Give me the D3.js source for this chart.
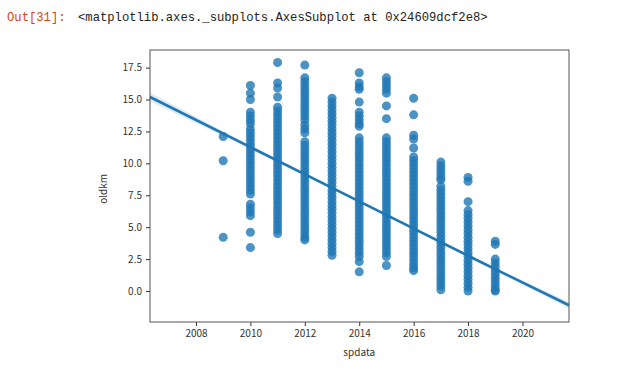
<!DOCTYPE html>
<html>
<head>
<meta charset="utf-8">
<script src="https://cdn.jsdelivr.net/npm/d3@7"></script>
<style>
  body { margin: 0; background: #fff; }
  svg { display: block; }
</style>
</head>
<body>
<svg width="625" height="373"></svg>
<script>
// values per year
const years = [2009, 2010, 2011, 2012, 2013, 2014, 2015, 2016, 2017, 2018, 2019];
const y2009 = [12.1, 10.2, 4.2];
const y2010 = [16.1, 15.5, 15.0, 14.0, 13.7, 13.4, 13.1, 12.7, 12.4, 12.1, 11.8, 11.5, 11.2, 10.9, 10.6, 10.3, 10.0, 9.7, 9.4, 9.1, 8.8, 8.5, 8.2, 7.9, 7.6, 6.8, 6.5, 6.2, 5.9, 4.6, 3.4];
const y2011 = [17.9, 16.3, 15.9, 15.2, 14.4, 14.1, 13.8, 13.5, 13.2, 12.9, 12.6, 12.3, 12.0, 11.7, 11.4, 11.1, 10.8, 10.5, 10.2, 9.9, 9.6, 9.3, 9.0, 8.7, 8.4, 8.1, 7.8, 7.5, 7.2, 6.9, 6.6, 6.3, 6.0, 5.7, 5.4, 5.1, 4.8, 4.5];
const y2012 = [17.7, 16.7, 16.4, 16.1, 15.8, 15.5, 15.2, 14.9, 14.6, 14.3, 14.0, 13.7, 13.4, 13.0, 12.7, 12.4, 11.7, 11.4, 11.1, 10.8, 10.5, 10.2, 9.9, 9.6, 9.3, 9.0, 8.7, 8.4, 8.1, 7.8, 7.5, 7.2, 6.9, 6.6, 6.3, 6.0, 5.7, 5.4, 5.1, 4.8, 4.5, 4.2, 4.0];
const y2013 = [15.1, 14.8, 14.5, 14.2, 13.9, 13.6, 13.3, 13.0, 12.7, 12.4, 12.1, 11.8, 11.5, 11.2, 10.9, 10.6, 10.3, 10.0, 9.7, 9.4, 9.1, 8.8, 8.5, 8.2, 7.9, 7.6, 7.3, 7.0, 6.7, 6.4, 6.1, 5.8, 5.5, 5.2, 4.9, 4.6, 4.3, 4.0, 3.7, 3.4, 3.1, 2.8];
const y2014 = [17.1, 16.3, 16.0, 15.8, 14.8, 14.0, 13.7, 13.4, 13.1, 12.9, 12.0, 11.7, 11.4, 11.1, 10.8, 10.5, 10.2, 9.9, 9.6, 9.3, 9.0, 8.7, 8.4, 8.1, 7.8, 7.5, 7.2, 6.9, 6.6, 6.3, 6.0, 5.7, 5.4, 5.1, 4.8, 4.5, 4.2, 3.9, 3.6, 3.3, 3.0, 2.7, 2.3, 1.5];
const y2015 = [16.7, 16.4, 16.1, 15.8, 15.5, 14.5, 13.5, 12.0, 11.7, 11.4, 11.1, 10.8, 10.5, 10.2, 9.9, 9.6, 9.3, 9.0, 8.7, 8.4, 8.1, 7.8, 7.5, 7.2, 6.9, 6.6, 6.3, 6.0, 5.7, 5.4, 5.1, 4.8, 4.5, 4.2, 3.9, 3.6, 3.3, 3.0, 2.7, 2.0];
const y2016 = [15.1, 13.8, 12.2, 11.9, 11.2, 10.5, 10.2, 9.9, 9.6, 9.3, 9.0, 8.7, 8.4, 8.1, 7.8, 7.5, 7.2, 6.9, 6.6, 6.3, 6.0, 5.7, 5.4, 5.1, 4.8, 4.5, 4.2, 3.9, 3.6, 3.3, 3.0, 2.7, 2.4, 2.1, 1.8, 1.6];
const y2017 = [10.1, 9.8, 9.5, 9.2, 8.9, 8.7, 8.2, 7.9, 7.6, 7.3, 7.0, 6.7, 6.4, 6.1, 5.8, 5.5, 5.2, 4.9, 4.6, 4.3, 4.0, 3.7, 3.4, 3.1, 2.8, 2.5, 2.2, 1.9, 1.6, 1.3, 1.0, 0.7, 0.4, 0.1];
const y2018 = [8.9, 8.6, 7.0, 6.3, 6.0, 5.7, 5.4, 5.1, 4.8, 4.5, 4.2, 3.9, 3.6, 3.3, 3.0, 2.7, 2.4, 2.1, 1.8, 1.5, 1.2, 0.9, 0.6, 0.3, 0.0];
const y2019 = [3.9, 3.65, 2.5, 2.2, 1.9, 1.6, 1.3, 1.0, 0.7, 0.4, 0.1, 0.0];
const valores = [y2009, y2010, y2011, y2012, y2013, y2014, y2015, y2016, y2017, y2018, y2019];

// fitted line and its band
const fitX = [2006.31, 2010, 2014, 2018, 2021.71];
const fitY = [15.2, 11.27, 7.02, 2.76, -1.12];
const fitLo = [14.85, 11.12, 6.95, 2.66, -1.38];
const fitHi = [15.55, 11.42, 7.09, 2.86, -0.86];

const xTicks = [2008, 2010, 2012, 2014, 2016, 2018, 2020];
const yTicks = [0.0, 2.5, 5.0, 7.5, 10.0, 12.5, 15.0, 17.5];

const svg = d3.select('svg');
const largura = +svg.attr('width');
const altura = +svg.attr('height');

svg.append('rect').attr('width', largura).attr('height', altura).attr('fill', '#fff');

// notebook output line
svg.append('text')
    .attr('x', 7).attr('y', 21)
    .attr('font-family', '"Liberation Mono", monospace')
    .attr('font-size', 12.2)
    .attr('fill', '#D84315')
    .text('Out[31]:');
svg.append('text')
    .attr('x', 78).attr('y', 21)
    .attr('font-family', '"Liberation Mono", monospace')
    .attr('font-size', 12.2)
    .attr('fill', '#222')
    .text('<matplotlib.axes._subplots.AxesSubplot at 0x24609dcf2e8>');

const marg = { cima: 50, direita: 56, baixo: 51, esquerda: 150 };
const innerLargura = largura - marg.esquerda - marg.direita;
const innerAltura = altura - marg.cima - marg.baixo;

const xEscala = d3.scaleLinear().domain([2006.31, 2021.71]).range([0, innerLargura]);
const yEscala = d3.scaleLinear().domain([-2.43, 18.88]).range([innerAltura, 0]);

const g = svg.append('g').attr('transform', `translate(${marg.esquerda},${marg.cima})`);

// points
const pontos = [];
years.forEach((ano, i) => valores[i].forEach(v => pontos.push({ x: ano, y: v })));

g.append('g').selectAll('circle').data(pontos)
    .enter().append('circle')
        .attr('cx', d => xEscala(d.x))
        .attr('cy', d => yEscala(d.y))
        .attr('r', 4.5)
        .attr('fill', '#1f77b4')
        .attr('fill-opacity', 0.8);

// band + line
const faixa = fitX.map((x, i) => ({ x, lo: fitLo[i], hi: fitHi[i], y: fitY[i] }));
g.append('path').datum(faixa)
    .attr('d', d3.area().x(d => xEscala(d.x)).y0(d => yEscala(d.lo)).y1(d => yEscala(d.hi)).curve(d3.curveMonotoneX))
    .attr('fill', '#1f77b4').attr('fill-opacity', 0.15);
g.append('path').datum(faixa)
    .attr('d', d3.line().x(d => xEscala(d.x)).y(d => yEscala(d.y)))
    .attr('fill', 'none').attr('stroke', '#1f77b4').attr('stroke-width', 2.6);

// axes
const fonte = '"Noto Sans CJK SC", "DejaVu Sans", sans-serif';
const eixoX = g.append('g').attr('transform', `translate(0,${innerAltura})`)
    .call(d3.axisBottom(xEscala).tickValues(xTicks).tickFormat(d3.format('d')).tickSize(4).tickPadding(4));
const eixoY = g.append('g')
    .call(d3.axisLeft(yEscala).tickValues(yTicks).tickFormat(d3.format('.1f')).tickSize(4).tickPadding(4));
[eixoX, eixoY].forEach(e => {
    e.select('.domain').remove();
    e.selectAll('line').attr('stroke', '#333');
    e.selectAll('text').attr('font-family', fonte).attr('font-size', 10).attr('fill', '#333');
});

// frame
g.append('rect')
    .attr('x', 0).attr('y', 0)
    .attr('width', innerLargura).attr('height', innerAltura)
    .attr('fill', 'none').attr('stroke', '#555').attr('stroke-width', 1);

// axis labels
svg.append('text')
    .attr('x', marg.esquerda + xEscala(2014)).attr('y', 356)
    .attr('text-anchor', 'middle')
    .attr('font-family', fonte).attr('font-size', 10).attr('fill', '#333')
    .text('spdata');
svg.append('text')
    .attr('transform', `translate(107,${marg.cima + yEscala(8.0)}) rotate(-90)`)
    .attr('text-anchor', 'middle')
    .attr('font-family', fonte).attr('font-size', 10).attr('fill', '#333')
    .text('oldkm');
</script>
</body>
</html>
